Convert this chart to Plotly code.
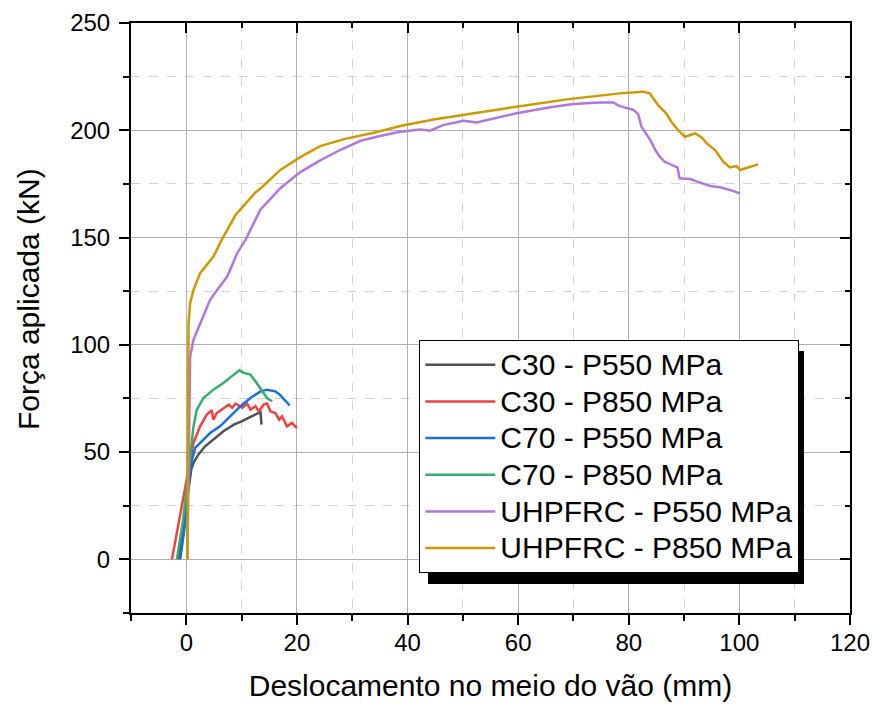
import plotly.graph_objects as go

# ---------------- data ----------------
c30_p550_x = [-1.4, -0.6, 0.3, 0.9, 1.3, 2.2, 3.4, 5.2, 6.7, 8.6, 10.1, 11.6, 13.4, 13.6]
c30_p550_y = [0, 15, 33, 42, 45, 48.9, 52.7, 56.6, 59.7, 62.8, 64.4, 66.4, 68.6, 62.8]

c30_p850_x = [-2.6, -1.0, 0.4, 1.3, 2.5, 3.7, 4.6, 4.9, 5.5, 6.4, 7.7, 8.3, 8.9, 9.5, 10.1, 11.0,
              11.6, 12.5, 13.1, 14.0, 14.6, 15.2, 16.1, 16.8, 17.3, 18.2, 19.1, 20.0]
c30_p850_y = [0, 22, 42, 54.3, 62, 67.5, 69.5, 65.1, 68.2, 69.8, 72.1, 70.6, 72.6, 71.7, 70.6, 72.6,
              69.8, 71.4, 69, 72.1, 72.6, 69, 68.2, 65.1, 66.7, 62, 63.6, 61.3]

c70_p550_x = [-1.1, -0.3, 0.3, 0.9, 1.6, 2.5, 4.3, 6.1, 8.0, 9.8, 11.6, 13.4, 14.6, 16.1, 16.9, 18.7]
c70_p550_y = [0, 15, 32, 45, 52, 54.3, 58.9, 62, 66.7, 71.4, 75.2, 78.3, 79.1, 78.3, 76.8, 71.7]

c70_p850_x = [-1.7, -0.6, 0.3, 0.9, 1.3, 1.9, 3.1, 4.9, 6.7, 8.6, 9.6, 10.4, 11.6, 12.5, 13.4, 14.6, 15.5]
c70_p850_y = [0, 18, 38, 52, 62, 69.8, 75.2, 79.1, 82.2, 86.1, 88.1, 86.9, 86.1, 83, 79.9, 75.2, 73.7]

uhp_p550_x = [0.2, 0.4, 0.6, 0.7, 1.3, 2.5, 4.3, 5.8, 7.4, 9.2, 10.7, 13.4, 17.0, 20.6, 24.2, 27.8,
              31.4, 35.0, 38.7, 42.3, 44.1, 46.4, 50.1, 52.5, 55.5, 59.7, 65.8, 70.0, 74.8, 77.2,
              78.0, 79.0, 80.8, 81.7, 82.3, 83.0, 83.9, 84.8, 85.6, 86.5, 87.7, 88.8, 89.2, 91.1,
              92.9, 94.7, 96.5, 98.3, 100.1]
uhp_p550_y = [0, 40, 83.8, 94.6, 102.4, 110, 121, 126.4, 131.8, 142.7, 148.9, 163, 173, 180.5, 186, 190.8,
              195, 197.3, 199.3, 200.4, 199.8, 202.4, 204.4, 203.6, 205.5, 207.9, 210.7, 212.2, 213, 213,
              211.7, 210.8, 209.6, 207.5, 201.6, 198.6, 195.4, 190.8, 187.7, 185.3, 183.8, 182.7, 177.6, 177.3,
              175.6, 174, 173.4, 172.2, 170.6]

uhp_p850_x = [0.2, 0.3, 0.4, 0.4, 0.7, 1.3, 2.5, 4.0, 4.9, 6.4, 8.9, 12.5, 13.7, 17.0, 20.6, 24.2,
              28.7, 34.1, 38.7, 44.7, 50.7, 59.7, 68.8, 78.4, 82.6, 83.8, 85.3, 86.8, 87.7, 88.9,
              90.2, 92.0, 93.2, 94.1, 95.6, 97.1, 98.3, 99.5, 100.1, 103.4]
uhp_p850_y = [0, 40, 83.8, 110, 119.5, 125.6, 133.4, 138, 141.1, 148.9, 160.5, 171, 173.5, 181.5, 187.5, 192.6,
              196, 199, 202, 205, 207.5, 211, 214.4, 217.2, 218, 217.2, 211.7, 207.8, 204, 200.1,
              197, 198.6, 196.7, 193.9, 190.8, 185.3, 182.7, 183.3, 181.5, 184.1]

series_names = ["C30 - P550 MPa", "C30 - P850 MPa", "C70 - P550 MPa", "C70 - P850 MPa",
                "UHPFRC - P550 MPa", "UHPFRC - P850 MPa"]
series_colors = ["#515151", "#F14040", "#1A6FDF", "#37AD6B", "#B177DE", "#CC9900"]
series_x = [c30_p550_x, c30_p850_x, c70_p550_x, c70_p850_x, uhp_p550_x, uhp_p850_x]
series_y = [c30_p550_y, c30_p850_y, c70_p550_y, c70_p850_y, uhp_p550_y, uhp_p850_y]

x_title = "Deslocamento no meio do vão (mm)"
y_title = "Força aplicada (kN)"

FONT = "Liberation Sans, Arial, sans-serif"

fig = go.Figure()
for name, col, xs, ys in zip(series_names, series_colors, series_x, series_y):
    fig.add_trace(go.Scatter(x=xs, y=ys, mode="lines",
                             name='<span style="font-size:30px">' + name + '</span>',
                             line=dict(color=col, width=2.5)))

# invisible trace for mirrored axes
fig.add_trace(go.Scatter(x=[None], y=[None], xaxis="x2", yaxis="y2",
                         showlegend=False, hoverinfo="skip"))

axis_common = dict(showline=True, linecolor="black", linewidth=2, zeroline=False,
                   tickcolor="black", tickwidth=2, ticklen=10, automargin=False)
tickfont = dict(family=FONT, size=24, color="black")

fig.update_layout(
    width=873, height=707,
    margin=dict(l=131, r=23, t=23, b=94),
    paper_bgcolor="white", plot_bgcolor="white",
    font=dict(family=FONT, color="black"),
    xaxis=dict(range=[-10, 120], tick0=0, dtick=20, ticks="outside",
               showgrid=True, gridcolor="#b0b0b0", gridwidth=1,
               minor=dict(dtick=10, tick0=0, ticks="outside", ticklen=6, tickwidth=2,
                          tickcolor="black", showgrid=True, gridcolor="#d2d2d2",
                          griddash="dash", gridwidth=1),
               title=dict(text=x_title, font=dict(family=FONT, size=30, color="black"),
                          standoff=20),
               tickfont=tickfont, ticklabelstandoff=-3,
               **axis_common),
    yaxis=dict(range=[-25, 250], tick0=0, dtick=50, ticks="outside",
               showgrid=True, gridcolor="#b0b0b0", gridwidth=1,
               minor=dict(dtick=25, tick0=0, ticks="outside", ticklen=6, tickwidth=2,
                          tickcolor="black", showgrid=True, gridcolor="#d2d2d2",
                          griddash="dash", gridwidth=1),
               tickfont=tickfont, ticklabelstandoff=4,
               **axis_common),
    xaxis2=dict(range=[-10, 120], overlaying="x", side="top", anchor="y2",
                tick0=0, dtick=20, ticks="inside", showticklabels=False, showgrid=False,
                minor=dict(dtick=10, tick0=0, ticks="inside", ticklen=5, tickwidth=2,
                           tickcolor="black", showgrid=False),
                **axis_common),
    yaxis2=dict(range=[-25, 250], overlaying="y", side="right", anchor="x2",
                tick0=0, dtick=50, ticks="inside", showticklabels=False, showgrid=False,
                minor=dict(dtick=25, tick0=0, ticks="inside", ticklen=5, tickwidth=2,
                           tickcolor="black", showgrid=False),
                **axis_common),
    legend=dict(x=0.401, y=0.462, xanchor="left", yanchor="top",
                bgcolor="white", bordercolor="black", borderwidth=1,
                font=dict(family=FONT, size=25.9, color="black"),
                itemwidth=70, tracegroupgap=0),
    showlegend=True,
)

# legend drop shadow
fig.add_shape(type="rect", xref="paper", yref="paper",
              x0=0.4131, x1=0.936, y0=0.0492, y1=0.444,
              fillcolor="black", line=dict(width=0), layer="above")

# y-axis title
fig.add_annotation(text=y_title, xref="paper", yref="paper",
                   x=-0.1433, y=0.532, xanchor="center", yanchor="middle",
                   textangle=-90, showarrow=False,
                   font=dict(family=FONT, size=30, color="black"))

fig.write_html("out.html")
